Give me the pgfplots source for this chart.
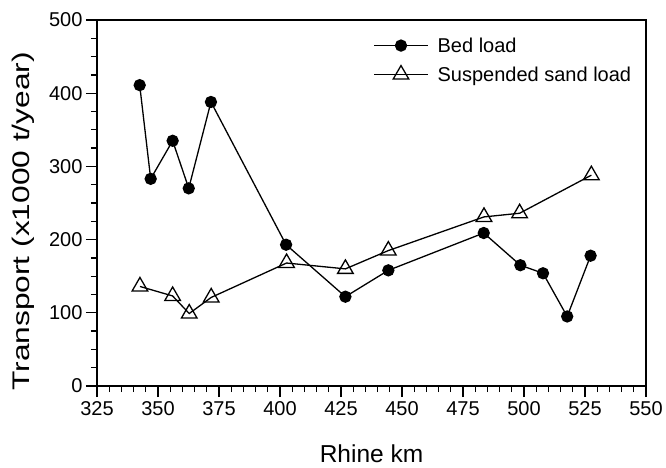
\documentclass[border=0pt]{standalone}
\usepackage{fontspec}
\setmainfont{Liberation Sans}
\usepackage{graphicx}
\usepackage{pgfplots}
\pgfplotsset{compat=1.18}

\begin{document}
\begin{tikzpicture}
% page: 666 x 468, axis box lower-left at (0,0)
\useasboundingbox (-97pt,-82pt) rectangle (569pt,386pt);
\begin{axis}[
  scale only axis,
  width=549pt, height=366pt,
  xmin=325, xmax=550,
  ymin=0, ymax=500,
  xtick={325,350,...,550},
  ytick={0,100,...,500},
  minor x tick num=4,
  minor y tick num=3,
  tick pos=left,
  tick align=outside,
  major tick length=11pt,
  minor tick length=6pt,
  axis line style={line width=1.3pt},
  every tick/.style={black, line width=1.3pt},
  /pgf/number format/assume math mode=true,
  /pgf/number format/1000 sep={},
  ticklabel style={font=\fontsize{20}{22}\selectfont},
  xticklabel style={yshift=-1pt},
  xlabel={Rhine km},
  ylabel={\scalebox{1.32}[1]{Transport (x1000 t/year)}},
  xlabel style={font=\fontsize{24.5}{26}\selectfont, inner sep=0pt,
    at={(axis description cs:0.5,-0.208)}, anchor=base},
  ylabel style={font=\fontsize{24}{26}\selectfont,
    at={(axis description cs:-0.135,0.45)}, anchor=center},
  legend style={
    at={(axis description cs:0.503,0.958)}, anchor=north west,
    draw=none, fill=none, inner sep=0pt,
    font=\fontsize{20}{22}\selectfont,
    cells={anchor=west},
    row sep=9pt,
    /tikz/every odd column/.append style={column sep=7pt},
  },
  legend image code/.code={
    \draw[#1, mark repeat=2, mark phase=2]
      plot coordinates {(0pt,0pt) (27pt,0pt) (54pt,0pt)};
  },
]
% bed load
\addplot[black, line width=1.3pt, mark=*, mark size=5.5pt,
  mark options={fill=black}] coordinates {
  (342.5,411) (347,283) (356,335) (362.6,270) (371.7,388)
  (402.5,193) (426.8,122) (444.4,158) (483.5,209) (498.5,165)
  (507.8,154) (517.7,95) (527.3,178)
};
\addlegendentry{Bed load}
% suspended sand load
\addplot[black, line width=1.3pt, mark=triangle, mark size=9pt,
  mark options={fill=white, solid}] coordinates {
  (342.6,136) (356,123) (362.8,99) (371.8,121) (402.7,168)
  (426.8,160) (444.4,185) (483.6,231) (498.2,236) (527.6,288)
};
\addlegendentry{Suspended sand load}
\end{axis}
\end{tikzpicture}
\end{document}
